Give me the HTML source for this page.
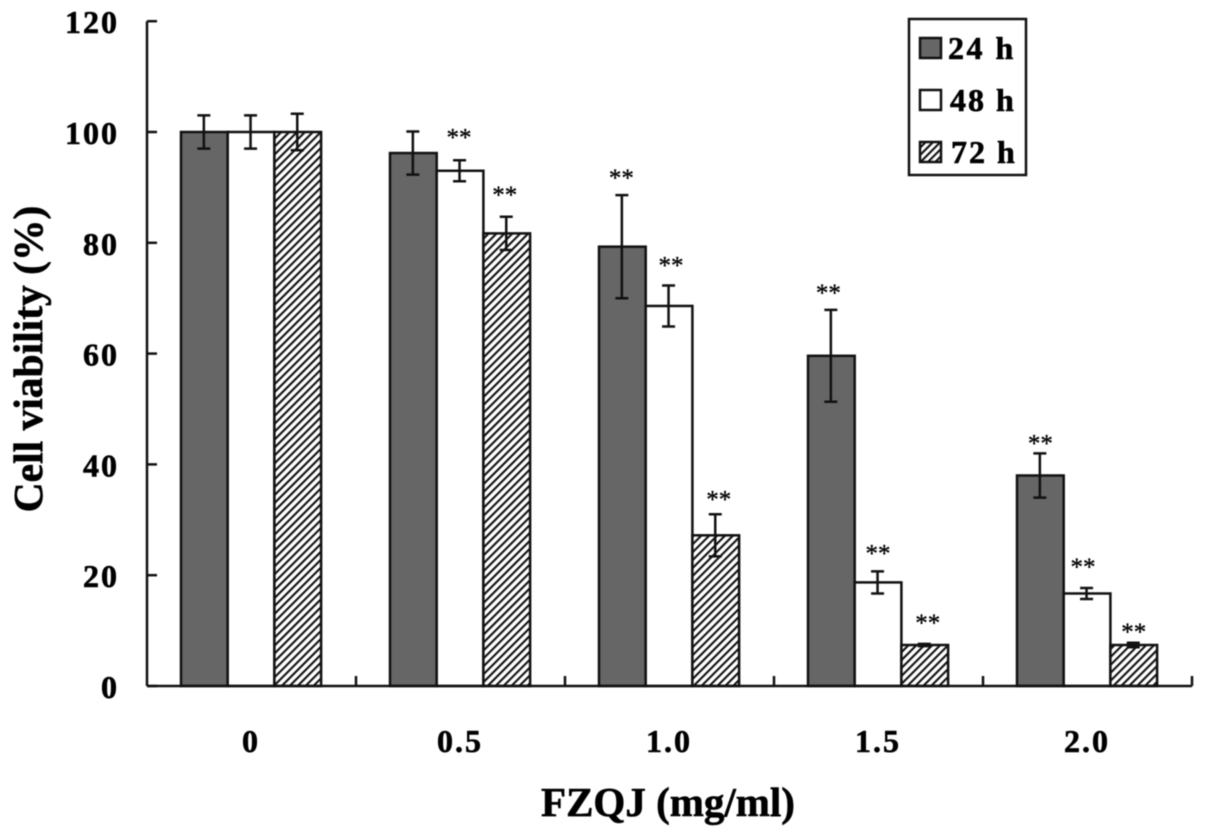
<!DOCTYPE html>
<html>
<head>
<meta charset="utf-8">
<title>Cell viability chart</title>
<style>
html,body{margin:0;padding:0;background:#fff;width:1205px;height:835px;overflow:hidden}
svg{display:block;filter:blur(0.4px)}
text{font-family:"Liberation Serif",serif;fill:#000}
.b{font-weight:bold;stroke:#000;stroke-width:0.6px}
</style>
</head>
<body>
<svg id="chart" width="1205" height="835" viewBox="0 0 1205 835" xmlns="http://www.w3.org/2000/svg">
<defs>
<pattern id="hatch" patternUnits="userSpaceOnUse" width="5.6" height="5.6" patternTransform="rotate(45)">
<rect width="5.6" height="5.6" fill="#fff"/>
<rect x="0" width="2.1" height="5.6" fill="#111"/>
</pattern>
<pattern id="hatch-small" patternUnits="userSpaceOnUse" width="5.2" height="5.2" patternTransform="rotate(45)">
<rect width="5.2" height="5.2" fill="#fff"/>
<rect x="0" width="2.1" height="5.2" fill="#111"/>
</pattern>
</defs>
<g id="bars"></g>
<g id="errors"></g>
<g id="stars"></g>
<g id="axes"></g>
<text class="b" font-size="41.5" text-anchor="middle" transform="translate(42,359) rotate(-90)">Cell viability (%)</text>
<text class="b" font-size="41" text-anchor="middle" x="668" y="816">FZQJ (mg/ml)</text>
<g>
<rect x="909" y="19" width="117" height="156" fill="#fff" stroke="#111" stroke-width="2.5"/>
<rect x="920" y="38" width="21" height="20" fill="#666" stroke="#111" stroke-width="2.5"/>
<text class="b" font-size="32" x="948" y="59" letter-spacing="2.5">24 h</text>
<rect x="920" y="90" width="21" height="20" fill="#fff" stroke="#111" stroke-width="2.5"/>
<text class="b" font-size="32" x="950" y="111" letter-spacing="2">48 h</text>
<rect x="920" y="142" width="21" height="20" fill="url(#hatch-small)" stroke="#111" stroke-width="2.5"/>
<text class="b" font-size="32" x="951" y="163" letter-spacing="2">72 h</text>
</g>
</svg>
<script>
var categories = ['0', '0.5', '1.0', '1.5', '2.0'];
var yTicks = [0, 20, 40, 60, 80, 100, 120];
var values24 = [100, 96.2, 79.3, 59.6, 38];
var values48 = [100, 93, 68.6, 18.7, 16.7];
var values72 = [100, 81.7, 27.2, 7.4, 7.4];
var errors24 = [3, 3.9, 9.3, 8.3, 4];
var errors48 = [3, 1.9, 3.7, 2, 1];
var errors72 = [3.3, 3, 3.8, 0.2, 0.4];
var sig24 = [false, false, true, true, true];
var sig48 = [false, true, true, true, true];
var sig72 = [false, true, true, true, true];
var seriesNames = ['24h', '48h', '72h'];

var NS = 'http://www.w3.org/2000/svg';
function yPos(v) { return 686 - v * 5.54; }
function groupLeft(i) { return 147 + 209 * i; }
function barX(i, s) { return groupLeft(i) + 34 + s * 46.7; }
var barW = 46.7;
function make(parent, tag, attrs) {
  var el = document.createElementNS(NS, tag);
  for (var k in attrs) el.setAttribute(k, attrs[k]);
  parent.appendChild(el);
  return el;
}
// Small label-placement nudges for the asterisks, relative to their error bars.
function starNudge(s, i) {
  var nudges = [
    [[0,0],[0,0],[-2,4],[-4,4],[-1,11]],
    [[0,0],[-2,-2],[1,1],[-1,3],[-5,0]],
    [[0,0],[-3,-1],[2,6],[2,0],[-1,10]]
  ];
  return nudges[s][i];
}
var barsG = document.getElementById('bars');
var errG = document.getElementById('errors');
var starG = document.getElementById('stars');
var axG = document.getElementById('axes');
var fills = ['#666', '#fff', 'url(#hatch)'];
var allValues = [values24, values48, values72];
var allErrors = [errors24, errors48, errors72];
var allSig = [sig24, sig48, sig72];
var lineStyle = { stroke: '#111', 'stroke-width': 2.5, fill: 'none' };

categories.forEach(function (cat, i) {
  allValues.forEach(function (vals, s) {
    var x = barX(i, s), top = yPos(vals[i]);
    var bar = make(barsG, 'rect', { x: x, y: top, width: barW, height: 686 - top, fill: fills[s], stroke: '#111', 'stroke-width': 2.5 });
    
    
  });
});
categories.forEach(function (cat, i) {
  allValues.forEach(function (vals, s) {
    var cx = barX(i, s) + barW / 2 - 0.5;
    var e = allErrors[s][i];
    var hi = yPos(vals[i] + e), lo = yPos(vals[i] - e);
    var p = make(errG, 'path', { d: 'M' + cx + ' ' + hi + 'V' + lo + 'M' + (cx - 6.5) + ' ' + hi + 'H' + (cx + 6.5) + 'M' + (cx - 6.5) + ' ' + lo + 'H' + (cx + 6.5), stroke: '#111', 'stroke-width': 2.5, fill: 'none' });
    
    
    if (allSig[s][i]) {
      var n = starNudge(s, i);
      var t = make(starG, 'text', { x: cx + 1.5 + n[0], y: hi - 13 + n[1], 'font-size': 25, 'text-anchor': 'middle', stroke: '#000', 'stroke-width': 0.3 });
      t.textContent = '**';
      
      
    }
  });
});

var yAxis = make(axG, 'path', Object.assign({ d: 'M147 ' + yPos(120) + 'V' + yPos(0) }, lineStyle));


var xAxis = make(axG, 'path', Object.assign({ d: 'M147 686H' + groupLeft(categories.length) }, lineStyle));


yTicks.forEach(function (v) {
  var y = yPos(v);
  var tick = make(axG, 'path', Object.assign({ d: 'M147 ' + y + 'H157' }, lineStyle));
  
  
  var label = make(axG, 'text', { x: 119, y: y + 12, 'font-size': 32, 'class': 'b', 'text-anchor': 'end', 'letter-spacing': 2 });
  label.textContent = v;
  
  
});
categories.forEach(function (cat, i) {
  var tx = groupLeft(i + 1);
  var tick = make(axG, 'path', Object.assign({ d: 'M' + tx + ' 676V686' }, lineStyle));
  
  
  var label = make(axG, 'text', { x: groupLeft(i) + 104, y: 752, 'font-size': 32, 'class': 'b', 'text-anchor': 'middle', 'letter-spacing': 2 });
  label.textContent = cat;
  
  
});
</script>
</body>
</html>
